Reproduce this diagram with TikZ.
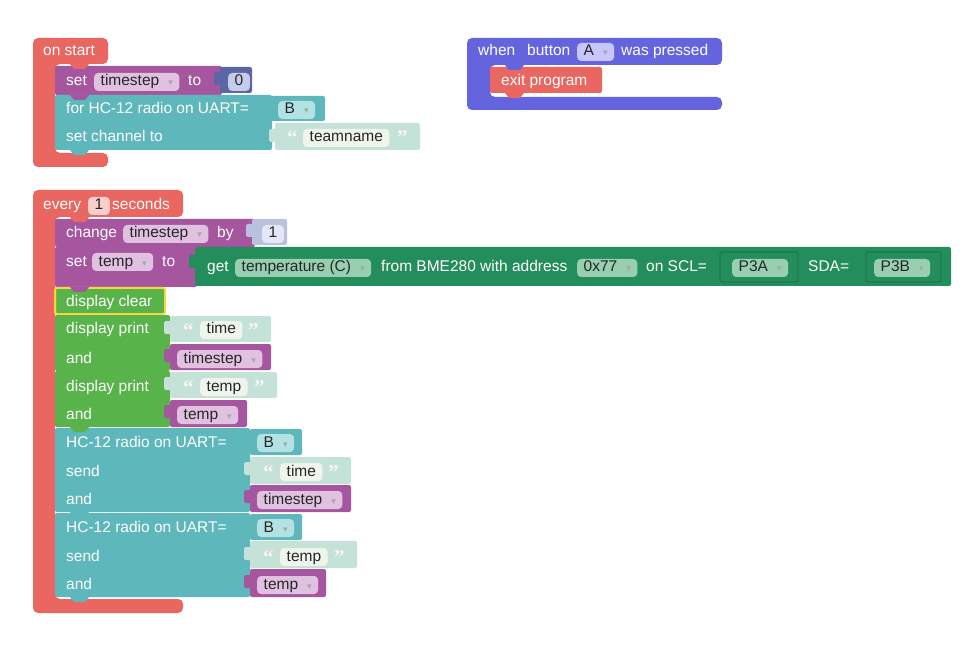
\documentclass[tikz,border=0pt]{standalone}
\usepackage{fontspec}
\setmainfont{Liberation Sans}
\newfontfamily\symfont{DejaVu Sans}
\newfontfamily\quofont{Liberation Serif}

\definecolor{evred}{RGB}{233,102,97}
\definecolor{redfld}{RGB}{250,206,202}
\definecolor{varpurple}{RGB}{165,86,158}
\definecolor{varfld}{RGB}{224,194,224}
\definecolor{mathblue}{RGB}{91,103,165}
\definecolor{mathfld}{RGB}{198,203,236}
\definecolor{mathlight}{RGB}{186,192,222}
\definecolor{mathlfld}{RGB}{228,231,245}
\definecolor{radteal}{RGB}{94,183,187}
\definecolor{radfld}{RGB}{178,226,226}
\definecolor{txtteal}{RGB}{196,226,216}
\definecolor{txtfld}{RGB}{240,245,236}
\definecolor{dispgreen}{RGB}{88,180,74}
\definecolor{bmegreen}{RGB}{35,141,91}
\definecolor{bmefld}{RGB}{152,207,176}
\definecolor{btnblue}{RGB}{100,100,222}
\definecolor{btnfld}{RGB}{198,198,250}
\definecolor{hlyellow}{RGB}{250,214,62}

\tikzset{
  lbl/.style={anchor=base west,inner sep=0pt,text=white},
  fld/.style={anchor=base west,fill=#1,rounded corners=4pt,inner xsep=6.5pt,
    inner ysep=1.5pt,text height=11.5pt,text depth=3.5pt,text=black!85},
  quo/.style={anchor=base west,inner sep=0pt,text=white!93!gray,
    font=\quofont\fontsize{21}{21}\selectfont\bfseries},
  blk/.style={fill=#1,rounded corners=2pt}
}
% dropdown arrow
\newcommand{\dd}{\hspace{9pt}{\symfont\fontsize{9}{9}\selectfont\color{black!35}▾}}
% value input tab
\newcommand{\intab}[3]{\fill[#3,rounded corners=1.5pt] ({#1-6},{#2+5}) rectangle ({#1+2},{#2+18});}
% next-statement notch
\newcommand{\nub}[3]{\fill[#3] ({#1+15},#2) -- ({#1+19},{#2+5}) -- ({#1+30},{#2+5}) -- ({#1+34},#2) -- cycle;}

\begin{document}
\begin{tikzpicture}[x=1pt,y=-1pt,font=\fontsize{15.5}{18}\selectfont]
\useasboundingbox[fill=white] (0,0) rectangle (975,655);

% on start
\fill[evred,rounded corners=5pt] (33,38) -- (108,38) -- (108,64) -- (55,64)
  -- (55,153) -- (108,153) -- (108,167) -- (33,167) -- cycle;
\node[lbl] (onstart) at (43,56) {on start};
\fill[blk=varpurple] (55,66) rectangle (222,95);
\node[lbl] (set1) at (66,86) {set};
\node[fld=varfld] (ts1) at (94,86) {timestep\dd};
\node[lbl] (to1) at (188,86) {to};
\intab{220}{67}{mathblue}
\fill[blk=mathblue] (220,67) rectangle (252,93);
\node[fld=mathfld] (zero) at (228,86) {0};
\fill[blk=radteal] (55,95) rectangle (272,150);
\node[lbl] (forhc) at (66,114) {for HC-12 radio on UART=};
\node[lbl] (setch) at (66,142) {set channel to};
\fill[blk=radteal] (268,96) rectangle (325,121);
\node[fld=radfld] (uart1) at (278,114) {B\dd};
\intab{275}{124}{txtteal}
\fill[blk=txtteal] (275,123) rectangle (420,150);
\node[quo] (q1a) at (287,145) {“};
\node[fld=txtfld] (team) at (303,142) {teamname};
\node[quo] (q1b) at (397,145) {”};

% when button pressed
\fill[btnblue,rounded corners=5pt] (467,38) -- (722,38) -- (722,65) -- (490,65)
  -- (490,97) -- (722,97) -- (722,110) -- (467,110) -- cycle;
\node[lbl] (when) at (478,56) {when};
\node[lbl] (button) at (527,56) {button};
\node[fld=btnfld] (btn) at (577,56) {A\dd};
\node[lbl] (pressed) at (621,56) {was pressed};
\fill[blk=evred] (490,67) rectangle (602,93);
\node[lbl] (exit) at (501,86) {exit program};

% every 1 seconds
\fill[evred,rounded corners=5pt] (33,190) -- (183,190) -- (183,217) -- (55,217)
  -- (55,599) -- (183,599) -- (183,613) -- (33,613) -- cycle;
\node[lbl] (every) at (43,210) {every};
\node[fld=redfld] (one) at (88,210) {1};
\node[lbl] (seconds) at (112,210) {seconds};
% change timestep
\fill[blk=varpurple] (55,219) rectangle (255,247);
\node[lbl] (change) at (66,238) {change};
\node[fld=varfld] (ts2) at (123,238) {timestep\dd};
\node[lbl] (by) at (217,238) {by};
\intab{252}{219}{mathlight}
\fill[blk=mathlight] (252,219) rectangle (287,245);
\node[fld=mathlfld] (inc) at (262,238) {1};
% set temp
\fill[blk=varpurple] (55,247) rectangle (197,287);
\node[lbl] (set2) at (66,266) {set};
\node[fld=varfld] (tmp1) at (92,266) {temp\dd};
\node[lbl] (to2) at (162,266) {to};
\intab{195}{250}{bmegreen}
\fill[blk=bmegreen] (195,247) rectangle (951,286);
\node[lbl] (get) at (207,272) {get};
\node[fld=bmefld] (meas) at (235,272) {temperature (C)\dd};
\node[lbl] (from) at (381,272) {from BME280 with address};
\node[fld=bmefld] (addr) at (577,272) {0x77\dd};
\node[lbl] (scl) at (646,272) {on SCL=};
\intab{720}{253}{bmegreen}
\fill[blk=bmegreen,draw=bmegreen!75!black,line width=0.6pt] (720,252) rectangle (798,282);
\node[fld=bmefld] (p3a) at (732,272) {P3A\dd};
\node[lbl] (sda) at (808,272) {SDA=};
\intab{866}{253}{bmegreen}
\fill[blk=bmegreen,draw=bmegreen!75!black,line width=0.6pt] (866,252) rectangle (941,282);
\node[fld=bmefld] (p3b) at (874,272) {P3B\dd};
% display clear
\fill[blk=dispgreen] (55,288) rectangle (165,314);
\draw[hlyellow,line width=2pt,rounded corners=2pt] (55,288) rectangle (165,314);
\node[lbl] (clear) at (66,306) {display clear};
% display print time
\fill[blk=dispgreen] (55,315) rectangle (170,371);
\node[lbl] (print1) at (66,334) {display print};
\node[lbl] (and1) at (66,363) {and};
\intab{170}{316}{txtteal}
\fill[blk=txtteal] (170,316) rectangle (271,342);
\node[quo] (q2a) at (183,337) {“};
\node[fld=txtfld] (time1) at (200,334) {time};
\node[quo] (q2b) at (248,337) {”};
\intab{170}{344}{varpurple}
\fill[blk=varpurple] (170,344) rectangle (271,370);
\node[fld=varfld] (ts3) at (177,363) {timestep\dd};
% display print temp
\fill[blk=dispgreen] (55,371) rectangle (170,427);
\node[lbl] (print2) at (66,391) {display print};
\node[lbl] (and2) at (66,419) {and};
\intab{170}{372}{txtteal}
\fill[blk=txtteal] (170,372) rectangle (277,398);
\node[quo] (q3a) at (183,394) {“};
\node[fld=txtfld] (temp1) at (200,391) {temp};
\node[quo] (q3b) at (254,394) {”};
\intab{170}{400}{varpurple}
\fill[blk=varpurple] (170,400) rectangle (247,427);
\node[fld=varfld] (tmp2) at (177,419) {temp\dd};
% radio send time
\fill[blk=radteal] (55,428) rectangle (250,512);
\node[lbl] (hc1) at (66,447) {HC-12 radio on UART=};
\node[lbl] (send1) at (66,476) {send};
\node[lbl] (and3) at (66,504) {and};
\fill[blk=radteal] (250,429) rectangle (302,455);
\node[fld=radfld] (uart2) at (257,447) {B\dd};
\intab{250}{457}{txtteal}
\fill[blk=txtteal] (250,457) rectangle (351,484);
\node[quo] (q4a) at (263,479) {“};
\node[fld=txtfld] (time2) at (280,476) {time};
\node[quo] (q4b) at (328,479) {”};
\intab{250}{485}{varpurple}
\fill[blk=varpurple] (250,485) rectangle (351,512);
\node[fld=varfld] (ts4) at (257,504) {timestep\dd};
% radio send temp
\fill[blk=radteal] (55,513) rectangle (250,597);
\node[lbl] (hc2) at (66,532) {HC-12 radio on UART=};
\node[lbl] (send2) at (66,561) {send};
\node[lbl] (and4) at (66,589) {and};
\fill[blk=radteal] (250,514) rectangle (302,540);
\node[fld=radfld] (uart3) at (257,532) {B\dd};
\intab{250}{542}{txtteal}
\fill[blk=txtteal] (250,541) rectangle (357,568);
\node[quo] (q5a) at (263,564) {“};
\node[fld=txtfld] (temp2) at (280,561) {temp};
\node[quo] (q5b) at (334,564) {”};
\intab{250}{570}{varpurple}
\fill[blk=varpurple] (250,569) rectangle (326,597);
\node[fld=varfld] (tmp3) at (257,589) {temp\dd};

% notches
\nub{55}{64}{evred}
\nub{55}{95}{varpurple}
\nub{55}{150}{radteal}
\nub{490}{65}{btnblue}
\nub{490}{93}{evred}
\nub{55}{217}{evred}
\nub{55}{247}{varpurple}
\nub{55}{287}{varpurple}
\nub{55}{315}{dispgreen}
\nub{55}{371}{dispgreen}
\nub{55}{427}{dispgreen}
\nub{55}{512}{radteal}
\nub{55}{597}{radteal}
\end{tikzpicture}
\end{document}
